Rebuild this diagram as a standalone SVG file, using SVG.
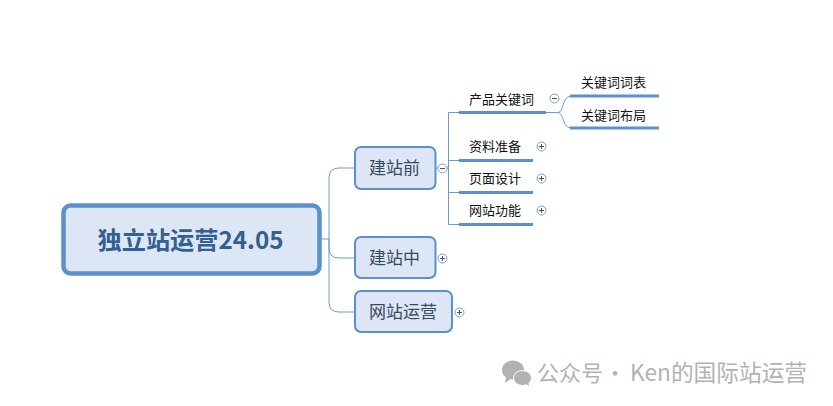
<svg xmlns="http://www.w3.org/2000/svg" width="833" height="406" viewBox="0 0 833 406">
<style>
text{font-family:"Noto Sans CJK SC","Liberation Sans",sans-serif}
.l{font-size:13px;fill:#111}
.m{font-size:17px;fill:#3a4a5e;text-anchor:middle}
.b{fill:#dce6f4;stroke:#5b8fd0;stroke-width:2}
.c{fill:none;stroke:#6f9bcb;stroke-width:1}
.u{fill:none;stroke:#5b8fd0;stroke-width:3}
.t{fill:#fff;stroke:#7a9cc4;stroke-width:1}
.s{stroke:#44546a;stroke-width:1;fill:none}
.w{font-size:22px;fill:#b2b2b2}
.k{font-size:22.700px;fill:#b2b2b2}
</style>
<rect width="833" height="406" fill="#fff"/>
<g id="connectors">
<path class="c" d="M321 239H329M329 239V178Q329 168 339 168H355M329 239V248Q329 258 339 258H355M329 239V302Q329 312 339 312H355"/>
<path class="c" d="M436 168H448.500M448.500 112.500V224.500M448.500 112.500H459M448.500 160.500H459M448.500 192.500H459M448.500 224.500H459"/>
<path class="c" d="M546 112.500H558C564 112.500 562 96 571 96M558 112.500C564 112.500 562 128 571 128"/>
</g>
<g id="root"><rect x="63.500" y="205.500" width="256" height="68" rx="7" fill="#dce6f4" stroke="#5b8fd0" stroke-width="4.500"/>
<text x="190.500" y="248.500" text-anchor="middle" font-size="24.200" font-weight="700" fill="#335f91">独立站运营24.05</text></g>
<g id="n1"><rect class="b" x="355" y="147" width="80.500" height="42" rx="6"/><text class="m" x="394.500" y="174">建站前</text>
<circle class="t" cx="442.500" cy="168.500" r="4.500"/><path class="s" d="M440 168.500H445"/></g>
<g id="n2"><rect class="b" x="355" y="237" width="80.500" height="41" rx="6"/><text class="m" x="394.500" y="264">建站中</text>
<circle class="t" cx="442.500" cy="258.500" r="4.500"/><path class="s" d="M440 258.500H445M442.500 256V261"/></g>
<g id="n3"><rect class="b" x="355" y="291" width="97" height="41" rx="6"/><text class="m" x="403" y="318">网站运营</text>
<circle class="t" cx="459.500" cy="312.500" r="4.500"/><path class="s" d="M457 312.500H462M459.500 310V315"/></g>
<g id="a1"><path class="u" d="M459 112.500H546"/><text class="l" x="469" y="103.500">产品关键词</text>
<circle class="t" cx="554.500" cy="98.500" r="4.500"/><path class="s" d="M552 98.500H557"/></g>
<g id="a2"><path class="u" d="M459 160.500H533"/><text class="l" x="469" y="151">资料准备</text>
<circle class="t" cx="541.500" cy="146.500" r="4.500"/><path class="s" d="M539 146.500H544M541.500 144V149"/></g>
<g id="a3"><path class="u" d="M459 192.500H533"/><text class="l" x="469" y="183">页面设计</text>
<circle class="t" cx="541.500" cy="178.500" r="4.500"/><path class="s" d="M539 178.500H544M541.500 176V181"/></g>
<g id="a4"><path class="u" d="M459 224.500H533"/><text class="l" x="469" y="215">网站功能</text>
<circle class="t" cx="541.500" cy="210.500" r="4.500"/><path class="s" d="M539 210.500H544M541.500 208V213"/></g>
<g id="b1"><path class="u" d="M570 96H659"/><text class="l" x="581" y="87">关键词词表</text></g>
<g id="b2"><path class="u" d="M570 128H659"/><text class="l" x="581" y="119.500">关键词布局</text></g>
<g id="watermark">
<ellipse cx="513" cy="370" rx="11" ry="9.500" fill="#b2b2b2"/><path d="M506 376L505 383L512 378Z" fill="#b2b2b2"/>
<ellipse cx="522.500" cy="378" rx="9" ry="7.500" fill="#b2b2b2" stroke="#fff" stroke-width="1"/><path d="M526 384L529 386L528 381Z" fill="#b2b2b2"/>
<text class="w" x="537" y="381">公众号</text><text class="w" x="604" y="381">·</text><text class="k" x="630" y="381">Ken的国际站运营</text>
</g>
</svg>
